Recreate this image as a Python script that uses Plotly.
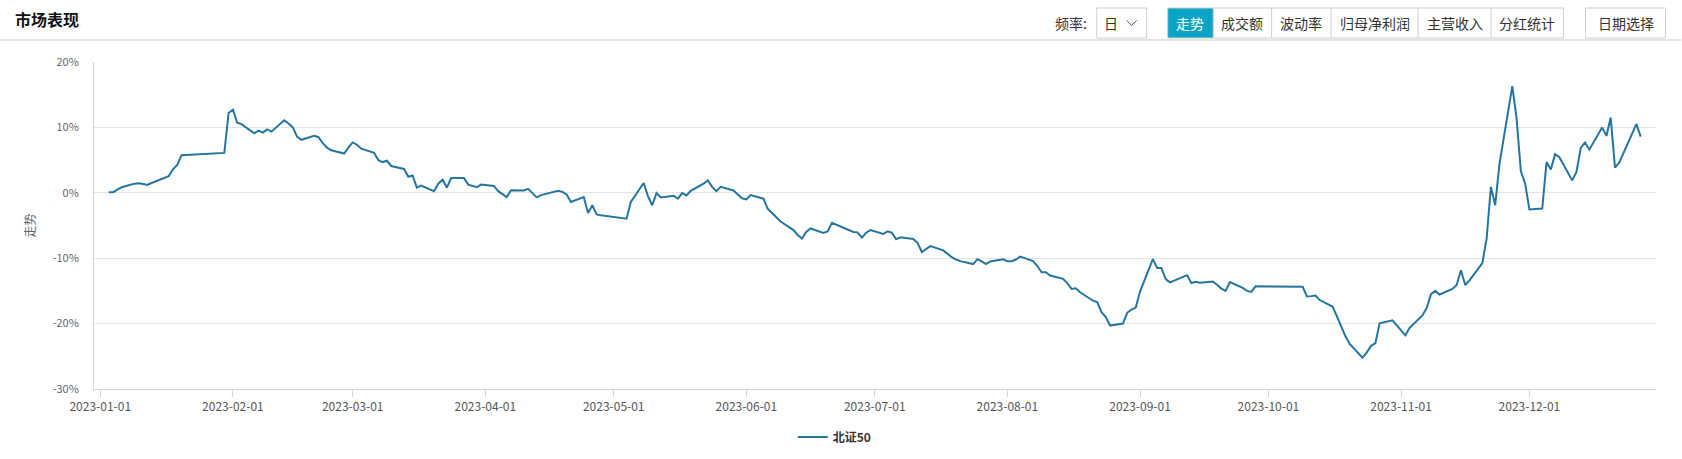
import plotly.graph_objects as go

# ---------------- data ----------------
dates = [
    "2023-01-03","2023-01-04","2023-01-05","2023-01-06","2023-01-09","2023-01-10","2023-01-11","2023-01-12","2023-01-13",
    "2023-01-16","2023-01-17","2023-01-18","2023-01-19","2023-01-20","2023-01-30","2023-01-31",
    "2023-02-01","2023-02-02","2023-02-03","2023-02-06","2023-02-07","2023-02-08","2023-02-09","2023-02-10",
    "2023-02-13","2023-02-14","2023-02-15","2023-02-16","2023-02-17","2023-02-20","2023-02-21","2023-02-22",
    "2023-02-23","2023-02-24","2023-02-27","2023-02-28",
    "2023-03-01","2023-03-02","2023-03-03","2023-03-06","2023-03-07","2023-03-08","2023-03-09","2023-03-10",
    "2023-03-13","2023-03-14","2023-03-15","2023-03-16","2023-03-17","2023-03-20","2023-03-21","2023-03-22",
    "2023-03-23","2023-03-24","2023-03-27","2023-03-28","2023-03-29","2023-03-30","2023-03-31",
    "2023-04-03","2023-04-04","2023-04-06","2023-04-07","2023-04-10","2023-04-11","2023-04-12","2023-04-13",
    "2023-04-14","2023-04-17","2023-04-18","2023-04-19","2023-04-20","2023-04-21","2023-04-24","2023-04-25",
    "2023-04-26","2023-04-27","2023-04-28",
    "2023-05-04","2023-05-05","2023-05-08","2023-05-09","2023-05-10","2023-05-11","2023-05-12","2023-05-15",
    "2023-05-16","2023-05-17","2023-05-18","2023-05-19","2023-05-22","2023-05-23","2023-05-24","2023-05-25",
    "2023-05-26","2023-05-29","2023-05-30","2023-05-31",
    "2023-06-01","2023-06-02","2023-06-05","2023-06-06","2023-06-07","2023-06-08","2023-06-09","2023-06-12",
    "2023-06-13","2023-06-14","2023-06-15","2023-06-16","2023-06-19","2023-06-20","2023-06-21","2023-06-26",
    "2023-06-27","2023-06-28","2023-06-29","2023-06-30",
    "2023-07-03","2023-07-04","2023-07-05","2023-07-06","2023-07-07","2023-07-10","2023-07-11","2023-07-12",
    "2023-07-13","2023-07-14","2023-07-17","2023-07-18","2023-07-19","2023-07-20","2023-07-21","2023-07-24",
    "2023-07-25","2023-07-26","2023-07-27","2023-07-28","2023-07-31",
    "2023-08-01","2023-08-02","2023-08-03","2023-08-04","2023-08-07","2023-08-08","2023-08-09","2023-08-10",
    "2023-08-11","2023-08-14","2023-08-15","2023-08-16","2023-08-17","2023-08-18","2023-08-21","2023-08-22",
    "2023-08-23","2023-08-24","2023-08-25","2023-08-28","2023-08-29","2023-08-30","2023-08-31",
    "2023-09-01","2023-09-04","2023-09-05","2023-09-06","2023-09-07","2023-09-08","2023-09-11","2023-09-12",
    "2023-09-13","2023-09-14","2023-09-15","2023-09-18","2023-09-19","2023-09-20","2023-09-21","2023-09-22",
    "2023-09-25","2023-09-26","2023-09-27","2023-09-28",
    "2023-10-09","2023-10-10","2023-10-11","2023-10-12","2023-10-13","2023-10-16","2023-10-17","2023-10-18",
    "2023-10-19","2023-10-20","2023-10-23","2023-10-24","2023-10-25","2023-10-26","2023-10-27","2023-10-30",
    "2023-10-31",
    "2023-11-01","2023-11-02","2023-11-03","2023-11-06","2023-11-07","2023-11-08","2023-11-09","2023-11-10",
    "2023-11-13","2023-11-14","2023-11-15","2023-11-16","2023-11-17","2023-11-20","2023-11-21","2023-11-22",
    "2023-11-23","2023-11-24","2023-11-27","2023-11-28","2023-11-29","2023-11-30",
    "2023-12-01","2023-12-04","2023-12-05","2023-12-06","2023-12-07","2023-12-08","2023-12-11","2023-12-12",
    "2023-12-13","2023-12-14","2023-12-15","2023-12-18","2023-12-19","2023-12-20","2023-12-21","2023-12-22",
    "2023-12-26","2023-12-27",
]

values = [
    0.1, 0.1, 0.5, 0.85, 1.4, 1.45, 1.35, 1.2, 1.5,
    2.35, 2.55, 3.6, 4.25, 5.75, 6.1, 12.2,
    12.7, 10.7, 10.5, 9.1, 9.5, 9.2, 9.7, 9.35,
    11.1, 10.6, 10.0, 8.6, 8.1, 8.7, 8.5, 7.6,
    6.9, 6.5, 6.0, 6.9,
    7.7, 7.35, 6.75, 6.1, 5.0, 4.7, 4.9, 4.1,
    3.65, 2.45, 2.65, 0.8, 1.1, 0.25, 1.4, 2.0,
    0.8, 2.25, 2.25, 1.25, 1.05, 0.85, 1.25,
    1.05, 0.25, -0.65, 0.4, 0.35, 0.6, 0.0, -0.7,
    -0.35, 0.1, 0.3, 0.15, -0.25, -1.4, -0.65, -3.1,
    -1.9, -3.3, -3.45,
    -3.95, -1.4, 1.5, -0.5, -1.9, -0.05, -0.7, -0.45,
    -0.9, -0.05, -0.4, 0.3, 1.4, 1.9, 0.9, 0.25,
    0.9, 0.35, -0.25, -0.85,
    -1.0, -0.35, -0.9, -2.45, -3.1, -3.75, -4.4, -5.7,
    -6.45, -7.0, -6.0, -5.45, -6.15, -5.9, -4.6, -6.0,
    -6.05, -6.85, -6.1, -5.7,
    -6.3, -5.9, -6.1, -7.1, -6.8, -7.05, -7.65, -9.05,
    -8.6, -8.15, -8.8, -9.3, -9.85, -10.2, -10.45, -10.9,
    -10.15, -10.5, -10.9, -10.5, -10.15,
    -10.45, -10.45, -10.2, -9.75, -10.45, -11.2, -12.15, -12.15,
    -12.65, -13.15, -13.8, -14.7, -14.6, -15.2, -16.5, -16.7,
    -18.25, -19.0, -20.3, -20.0, -18.35, -17.85, -17.55,
    -15.1, -10.15, -11.5, -11.5, -13.2, -13.7, -12.8, -12.6,
    -13.8, -13.6, -13.75, -13.55, -14.05, -14.65, -15.0, -13.65,
    -14.55, -15.0, -15.15, -14.3,
    -14.35, -15.85, -15.8, -15.7, -16.4, -17.4, -18.85, -20.45,
    -21.95, -23.1, -25.2, -24.4, -23.4, -23.0, -19.95, -19.5,
    -20.25,
    -21.0, -21.8, -20.65, -18.75, -17.6, -15.5, -15.0, -15.55,
    -14.7, -14.1, -11.85, -14.1, -13.4, -10.75, -7.0, 0.9,
    -1.9, 4.4, 16.3, 11.4, 3.3, 1.4,
    -2.55, -2.4, 4.7, 3.55, 5.9, 5.45, 1.9, 3.2,
    6.85, 7.7, 6.6, 10.0, 8.7, 11.5, 3.85, 4.65,
    10.5, 8.6,
]

series_name = "北证50"
month_ticks = ["2023-%02d-01" % m for m in range(1, 13)]
y_ticks = [-30, -20, -10, 0, 10, 20]
y_tick_labels = ["-30%", "-20%", "-10%", "0%", "10%", "20%"]
buttons = ["走势", "成交额", "波动率", "归母净利润", "主营收入", "分红统计"]

# ---------------- layout helpers (pixel -> paper) ----------------
W_PX, H_PX = 1682, 459
L, R, T, B = 94, 1656.5, 62, 389
PW, PH = R - L, B - T


def px(x):
    return (x - L) / PW


def py(y):
    return (B - y) / PH


FONT = "Noto Sans CJK SC, Microsoft YaHei, sans-serif"
LINE_COLOR = "#25759f"
TEAL = "#0aa5c5"

fig = go.Figure()
fig.add_trace(go.Scatter(
    x=dates, y=values, mode="lines", name=series_name,
    line=dict(color=LINE_COLOR, width=2),
    hoverinfo="skip",
))

shapes = []
annotations = []

# header separator
shapes.append(dict(type="line", xref="paper", yref="paper",
                   x0=px(0), x1=px(W_PX), y0=py(40), y1=py(40),
                   line=dict(color="#c8c8c8", width=1.2)))
# title
annotations.append(dict(text="<b>市场表现</b>", xref="paper", yref="paper",
                        x=px(13), y=py(19), xanchor="left", yanchor="middle",
                        showarrow=False, font=dict(size=16, color="#111", family=FONT)))
# frequency label
annotations.append(dict(text="频率:", xref="paper", yref="paper",
                        x=px(1071), y=py(23), xanchor="center", yanchor="middle",
                        showarrow=False, font=dict(size=14, color="#333", family=FONT)))
# dropdown
shapes.append(dict(type="rect", xref="paper", yref="paper",
                   x0=px(1097), x1=px(1147), y0=py(38), y1=py(8),
                   line=dict(color="#cfcfcf", width=1), fillcolor="white"))
annotations.append(dict(text="日", xref="paper", yref="paper",
                        x=px(1111), y=py(23), xanchor="center", yanchor="middle",
                        showarrow=False, font=dict(size=14, color="#333", family=FONT)))
shapes.append(dict(type="path", xref="paper", yref="paper",
                   path="M %f,%f L %f,%f L %f,%f" % (px(1127), py(20.5), px(1132), py(25.5), px(1137), py(20.5)),
                   line=dict(color="#555", width=1)))

# button group
edges = [1168, 1213.6, 1272, 1331.5, 1418.5, 1491.5, 1564]
shapes.append(dict(type="rect", xref="paper", yref="paper",
                   x0=px(edges[0]), x1=px(edges[1]), y0=py(38), y1=py(8),
                   line=dict(width=0), fillcolor=TEAL))
shapes.append(dict(type="rect", xref="paper", yref="paper",
                   x0=px(edges[0]), x1=px(edges[-1]), y0=py(38), y1=py(8),
                   line=dict(color="#cfcfcf", width=1)))
for e in edges[1:-1]:
    shapes.append(dict(type="line", xref="paper", yref="paper",
                       x0=px(e), x1=px(e), y0=py(38), y1=py(8),
                       line=dict(color="#cfcfcf", width=1)))
for i, b in enumerate(buttons):
    annotations.append(dict(text=b, xref="paper", yref="paper",
                            x=px((edges[i] + edges[i + 1]) / 2), y=py(23),
                            xanchor="center", yanchor="middle", showarrow=False,
                            font=dict(size=14, color="white" if i == 0 else "#333", family=FONT)))
# date picker button
shapes.append(dict(type="rect", xref="paper", yref="paper",
                   x0=px(1586), x1=px(1666), y0=py(38), y1=py(8),
                   line=dict(color="#cfcfcf", width=1)))
annotations.append(dict(text="日期选择", xref="paper", yref="paper",
                        x=px(1626), y=py(23), xanchor="center", yanchor="middle",
                        showarrow=False, font=dict(size=14, color="#333", family=FONT)))

fig.update_layout(
    width=W_PX, height=H_PX,
    margin=dict(l=L, r=W_PX - R, t=T, b=H_PX - B, autoexpand=False),
    paper_bgcolor="white", plot_bgcolor="white",
    font=dict(family=FONT, color="#666"),
    showlegend=True,
    legend=dict(orientation="h", x=px(835), xanchor="center", y=py(437), yanchor="middle",
                font=dict(size=12, color="#333", family=FONT, weight="bold"),
                itemwidth=30),
    shapes=shapes, annotations=annotations,
    hovermode=False,
)
fig.update_xaxes(
    type="date", range=["2022-12-30 13:00", "2023-12-30 14:00"],
    tickvals=month_ticks, ticktext=month_ticks,
    ticks="outside", ticklen=7, tickcolor="#ccd6eb", tickwidth=1,
    showline=True, linecolor="#ccd6eb", linewidth=1,
    showgrid=False, zeroline=False,
    tickfont=dict(size=12, color="#555", family=FONT),
)
fig.update_yaxes(
    range=[-30, 20], tickvals=y_ticks, ticktext=y_tick_labels,
    showgrid=True, gridcolor="#e4e4e4", gridwidth=1,
    showline=True, linecolor="#ccd6eb", linewidth=1,
    zeroline=False, ticks="", ticklabelstandoff=12,
    tickfont=dict(size=11, color="#666", family=FONT),
    title=dict(text="走势", standoff=14, font=dict(size=12, color="#666", family=FONT)),
)

fig.write_html("out.html", config={"displayModeBar": False},
               post_script="document.body.style.margin='0';document.body.style.overflow='hidden';")
